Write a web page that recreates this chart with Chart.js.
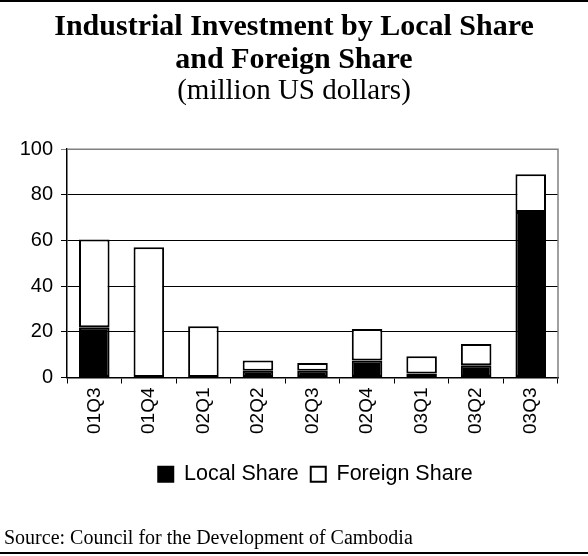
<!DOCTYPE html>
<html>
<head>
<meta charset="utf-8">
<script src="https://cdn.jsdelivr.net/npm/chart.js@4/dist/chart.umd.min.js"></script>
<style>
  html, body { margin: 0; padding: 0; background: #fff; }
  #wrap { width: 588px; height: 556px; position: relative; }
</style>
</head>
<body>
<div id="wrap"><canvas id="chInvest"></canvas></div>
<script>
// quarters
var quarters = ["01Q3", "01Q4", "02Q1", "02Q2", "02Q3", "02Q4", "03Q1", "03Q2", "03Q3"];

// million US dollars
var localShare = [22, 0, 0, 3, 3, 7.4, 1.8, 5.4, 72.5];
var foreignShare = [38.5, 57, 22.5, 4.4, 3.3, 13.8, 7.5, 9.3, 16.5];

var yTicks = [0, 20, 40, 60, 80, 100];

var sourceNote = "Source: Council for the Development of Cambodia";

// move a layout box so its middle sits at x
function centerBox(box, x) {
  if (!box) return;
  var d = x - (box.left + box.right) / 2;
  box.left += d;
  box.right += d;
}

// frame lines, plot border and source line
var framePlugin = {
  id: "frame",
  afterLayout: function (chart) {
    var a = chart.chartArea;
    // title + subtitle centred on the page, legend under the plot
    chart.boxes.forEach(function (b) {
      if (b.position === "top") centerBox(b, chart.width / 2);
    });
    centerBox(chart.legend, (a.left + a.right) / 2 + 3);
  },
  afterDraw: function (chart) {
    var ctx = chart.ctx;
    var a = chart.chartArea;
    ctx.save();
    // grey border top/right of plot
    ctx.strokeStyle = "#808080";
    ctx.lineWidth = 1.5;
    ctx.beginPath();
    ctx.moveTo(a.left, a.top);
    ctx.lineTo(a.right, a.top);
    ctx.lineTo(a.right, a.bottom);
    ctx.stroke();
    // rules
    ctx.strokeStyle = "#000";
    ctx.lineWidth = 2;
    ctx.beginPath();
    ctx.moveTo(0, 1);
    ctx.lineTo(chart.width, 1);
    ctx.moveTo(0, 553);
    ctx.lineTo(chart.width, 553);
    ctx.stroke();
    // source
    ctx.fillStyle = "#000";
    ctx.font = "20px 'Liberation Serif', 'Times New Roman', serif";
    ctx.textBaseline = "alphabetic";
    ctx.textAlign = "left";
    ctx.fillText(sourceNote, 4, 544);
    ctx.restore();
  }
};

function barBorder(ctx) {
  var v = ctx.raw;
  return v ? 2 : 0;
}

var chInvest = document.getElementById("chInvest");
if (chInvest) {
  new Chart(chInvest, {
    type: "bar",
    data: {
      labels: quarters,
      datasets: [
        {
          label: "Local Share",
          data: localShare,
          backgroundColor: "#000",
          borderColor: "#000",
          borderWidth: barBorder,
          borderSkipped: false,
          categoryPercentage: 1,
          barPercentage: 0.56
        },
        {
          label: "Foreign Share",
          data: foreignShare,
          backgroundColor: "#fff",
          borderColor: "#000",
          borderWidth: barBorder,
          borderSkipped: false,
          categoryPercentage: 1,
          barPercentage: 0.56
        }
      ]
    },
    options: {
      responsive: true,
      maintainAspectRatio: false,
      animation: false,
      layout: { padding: { left: 0, right: 30, top: 6, bottom: 61 } },
      plugins: {
        title: {
          display: true,
          text: ["Industrial Investment by Local Share", "and Foreign Share"],
          color: "#000",
          font: { family: "'Liberation Serif', 'Times New Roman', serif", size: 30, weight: "bold", lineHeight: 1.12 },
          padding: { top: 4, bottom: 0 }
        },
        subtitle: {
          display: true,
          text: "(million US dollars)",
          color: "#000",
          font: { family: "'Liberation Serif', 'Times New Roman', serif", size: 29, lineHeight: 1.0 },
          padding: { top: 0, bottom: 43 }
        },
        legend: {
          position: "bottom",
          labels: {
            color: "#000",
            font: { family: "'Liberation Sans', Arial, sans-serif", size: 21.5 },
            boxWidth: 15,
            boxHeight: 15,
            padding: 12
          }
        },
        tooltip: { enabled: false }
      },
      scales: {
        x: {
          stacked: true,
          afterFit: function (scale) { scale.height = 74; },
          grid: { display: true, drawOnChartArea: false, offset: true, color: "#000", tickLength: 6 },
          border: { color: "#000", width: 1.5 },
          ticks: {
            color: "#000",
            font: { family: "'Liberation Sans', Arial, sans-serif", size: 19 },
            minRotation: 90,
            maxRotation: 90,
            padding: 4
          }
        },
        y: {
          stacked: true,
          min: 0,
          max: 100,
          afterBuildTicks: function (scale) {
            scale.ticks = yTicks.map(function (v) { return { value: v }; });
          },
          afterFit: function (scale) { scale.width = 67; },
          grid: {
            color: function (c) { return c.tick && c.tick.value === 100 ? "#808080" : "#000"; },
            lineWidth: 1,
            tickLength: 6
          },
          border: { color: "#000", width: 1.5 },
          ticks: {
            color: "#000",
            font: { family: "'Liberation Sans', Arial, sans-serif", size: 20 },
            padding: 8
          }
        }
      }
    },
    plugins: [framePlugin]
  });
}
</script>
</body>
</html>
